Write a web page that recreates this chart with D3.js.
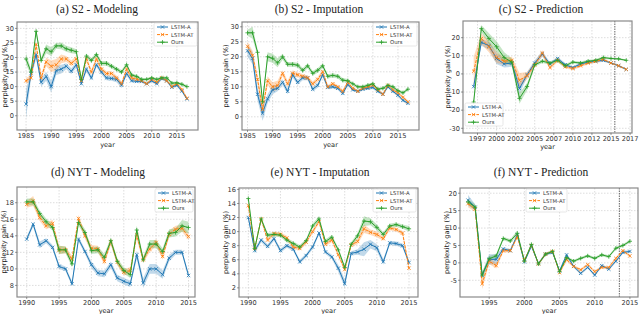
<!DOCTYPE html>
<html>
<head>
<meta charset="utf-8"/>
<style>
    body { margin: 0; background: #fff; }
    svg { display: block; }
    .tick-label { font-family: 'DejaVu Sans', sans-serif; font-size: 6.6px; fill: #333; }
    .axis-label { font-family: 'DejaVu Sans', sans-serif; font-size: 6.6px; fill: #222; }
    .title { font-family: 'Liberation Serif', 'Times New Roman', serif; font-size: 11.5px; fill: #222; }
    .legend-text { font-family: 'DejaVu Sans', sans-serif; font-size: 5.3px; fill: #333; }
</style>
<script src="https://cdnjs.cloudflare.com/ajax/libs/d3/7.8.5/d3.min.js"></script>
</head>
<body>
<svg id="viz" width="640" height="314"></svg>
<script>
// ---- data ----
const seriesNames = ['LSTM-A', 'LSTM-AT', 'Ours'];

// S2 - Modeling (1985..2017)
const s2ModYears = d3.range(1985, 2018);
const s2ModA   = [4, 14.5, 21, 11.5, 13.5, 10, 15.5, 16, 17, 15.3, 17.5, 11, 16, 13, 17.5, 15, 13, 12.8, 12.5, 10.5, 14.5, 12, 11.8, 11.8, 11, 12, 11, 12.8, 12, 9.8, 10.5, 8.5, 5.8];
const s2ModAT  = [12, 13, 24.5, 13, 18.5, 17, 17.5, 19.5, 19.5, 18, 19.5, 12, 19.5, 15, 19.5, 16, 14.5, 14.5, 13, 11, 16, 13, 12.5, 12, 11, 12.5, 11.5, 13, 12, 10, 11, 9, 6];
const s2ModOurs= [19.5, 15, 29, 19, 23, 22, 24, 24, 23, 22.5, 22, 12.5, 20.5, 19, 21, 18, 18, 17, 16, 15, 17.5, 14, 13.5, 12.5, 12.5, 13, 12.5, 13, 13, 11.2, 11.3, 10.8, 10];
const s2ModA_sd   = [5, 1.5, 1.5, 1.5, 1.5, 2, 1.5, 1.5, 1, 1, 1, 0.7, 1, 0.8, 0.8, 0.8, 0.8, 0.8, 1, 1, 0.8, 0.6, 0.5, 0.5, 0.5, 0.5, 0.5, 0.5, 0.5, 0.5, 0.5, 0.5, 0.5];
const s2ModAT_sd  = [1, 1, 1, 1, 1.5, 2, 2, 1.5, 1, 1, 1, 0.7, 1, 1, 0.8, 0.8, 0.8, 0.8, 0.8, 0.8, 0.8, 0.7, 0.6, 0.5, 0.5, 0.5, 0.5, 0.5, 0.5, 0.5, 0.5, 0.5, 0.5];
const s2ModOurs_sd= [2, 1, 1, 1, 1.5, 1.5, 1, 1.2, 1, 1, 0.8, 0.8, 0.8, 0.8, 0.8, 0.8, 0.8, 0.8, 0.7, 0.7, 0.7, 0.6, 0.6, 0.5, 0.5, 0.5, 0.5, 0.5, 0.5, 0.5, 0.5, 0.5, 0.5];

// S2 - Imputation (1985..2017)
const s2ImpYears = d3.range(1985, 2018);
const s2ImpA   = [22, 19.5, 7.5, 1.2, 6, 9, 9.5, 11.5, 8.5, 14, 11.5, 13, 13, 9.2, 10.5, 14, 9.8, 10, 9.5, 7.8, 10.8, 9, 8.5, 9.2, 9.5, 9.8, 8.5, 7.5, 10, 8.5, 7.2, 5.5, 4.5];
const s2ImpAT  = [23.5, 20.5, 12.5, 2.5, 12, 10, 10.5, 14.5, 11, 14.5, 14, 13.5, 13, 11, 12.5, 15, 10, 11, 10, 8.5, 11.5, 9.5, 8.5, 9.5, 10, 10.5, 9, 7.5, 10.5, 9, 8, 6.5, 5];
const s2ImpOurs= [28, 28, 21.5, 5, 20, 19.5, 18, 20, 17.5, 17.5, 17.2, 15.5, 17, 14.5, 15.5, 17, 13.5, 13.8, 13.5, 12.2, 12, 11, 10, 10, 10.5, 11, 9.2, 9.5, 10.5, 10, 8.7, 8, 9.2];
const s2ImpA_sd   = [2, 2, 2, 2.5, 1.5, 1.5, 1, 1, 1, 1, 0.8, 0.8, 0.8, 0.8, 0.8, 0.8, 0.6, 0.6, 0.6, 0.6, 0.6, 0.5, 0.5, 0.5, 0.5, 0.5, 0.5, 0.5, 0.5, 0.5, 0.5, 0.5, 0.5];
const s2ImpAT_sd  = [1.5, 1.5, 1.5, 2, 1.5, 1.5, 1.5, 1, 1, 1, 0.8, 0.8, 0.8, 0.8, 0.8, 0.8, 0.6, 0.6, 0.6, 0.6, 0.6, 0.5, 0.5, 0.5, 0.5, 0.5, 0.5, 0.5, 0.5, 0.5, 0.5, 0.5, 0.5];
const s2ImpOurs_sd= [1, 2, 1, 1, 1.5, 1.5, 1.5, 1, 0.8, 0.8, 0.8, 0.8, 0.8, 0.8, 0.8, 0.8, 0.7, 0.7, 0.7, 0.7, 0.6, 0.5, 0.5, 0.5, 0.5, 0.5, 0.5, 0.5, 0.5, 0.5, 0.5, 0.5, 0.5];

// S2 - Prediction (1997..2017)
const s2PredYears = d3.range(1997, 2018);
const s2PredA   = [-7, 17.5, 15.5, 8.5, 5.5, 6, -8, -0.5, 6, 11, 5.5, 8.5, 5, 3.5, 5.5, 6.5, 7, 7.5, 6, 4.5, 2.5];
const s2PredAT  = [1.5, 19.5, 15, 9, 7, 7.5, -3.5, -1, 5, 11.5, 3.5, 7.5, 4, 3, 4.5, 6, 7, 8, 6, 4.5, 2.5];
const s2PredOurs= [-15.5, 25, 19.5, 15, 9, 6.5, -13.5, -7, 5, 7, 6, 7.5, 4.5, 6.5, 6, 7, 7.5, 9, 8.5, 8.3, 7.5];
const s2PredA_sd   = [2, 2, 2, 3, 2, 2, 3, 1.5, 1.5, 1.5, 1, 1, 1, 0.8, 0.8, 0.8, 0.8, 0.8, 0.5, 0.5, 0.5];
const s2PredAT_sd  = [8, 3, 3, 3, 2, 2, 4, 2, 1.5, 1.5, 1, 1, 1, 0.8, 0.8, 0.8, 0.8, 0.8, 0.5, 0.5, 0.5];
const s2PredOurs_sd= [2, 2, 3, 3, 3, 2, 3, 2, 1, 1, 1, 1, 1, 0.8, 0.8, 0.8, 0.8, 0.8, 0.5, 0.5, 0.5];

// NYT - Modeling (1990..2015)
const nytModYears = d3.range(1990, 2016);
const nytModA   = [13.6, 15.4, 12.9, 13.4, 12.6, 10.3, 10, 8.2, 13.6, 12.1, 10.5, 9.5, 9.4, 10.5, 8.9, 8.5, 8.2, 11.7, 8.3, 10, 10, 9.3, 11.3, 12, 12, 9.2];
const nytModAT  = [17.8, 18.2, 16.2, 15.2, 15.5, 12.3, 12.3, 11.2, 16.1, 14, 12.5, 12.4, 10.9, 13.3, 10.8, 9.6, 9.8, 14.1, 11.1, 12.4, 13.2, 11.5, 14.2, 14.8, 14.9, 13.9];
const nytModOurs= [18.1, 18.1, 16.7, 15.7, 15, 12.3, 12.3, 10.6, 15.6, 14.4, 12.2, 12.3, 11.4, 13.4, 10.9, 9.8, 9.3, 14.7, 11.1, 13, 13, 12.1, 14.3, 14.4, 15.2, 15];
const nytModA_sd   = [0.3, 0.3, 0.4, 0.3, 0.3, 0.3, 0.3, 0.3, 0.3, 0.3, 0.4, 0.4, 0.4, 0.4, 0.4, 0.4, 0.4, 0.5, 0.6, 0.6, 0.6, 0.5, 0.4, 0.3, 0.3, 0.3];
const nytModAT_sd  = [0.4, 0.6, 0.4, 0.4, 0.4, 0.5, 0.4, 0.4, 0.4, 0.4, 0.4, 0.4, 0.4, 0.4, 0.4, 0.4, 0.4, 0.5, 0.4, 0.4, 0.4, 0.4, 0.4, 0.4, 0.4, 0.4];
const nytModOurs_sd= [0.4, 0.4, 0.4, 0.4, 0.4, 0.5, 0.4, 0.4, 0.4, 0.4, 0.4, 0.4, 0.4, 0.4, 0.4, 0.4, 0.4, 0.5, 0.4, 0.5, 0.5, 0.4, 0.5, 0.5, 0.7, 0.7];

// NYT - Imputation (1990..2015)
const nytImpYears = d3.range(1990, 2016);
const nytImpA   = [12, 7.3, 8.8, 7.9, 9, 7.3, 8, 7.5, 5.7, 6.6, 7.8, 9.8, 7.1, 6.4, 4.8, 2.6, 6.9, 7.1, 7.5, 8.2, 7.7, 5.7, 8.4, 8.3, 8, 5.6];
const nytImpAT  = [13.7, 7.6, 11.8, 8.8, 9.7, 9.6, 9.1, 7.8, 7.6, 8.5, 10, 11.4, 8.2, 8.8, 6.7, 4.6, 8.1, 8.6, 10.4, 9.9, 9.6, 9, 10.5, 10.3, 9.8, 4.8];
const nytImpOurs= [14.7, 7.6, 11.8, 9.5, 9.6, 9.5, 8.8, 8.3, 7.8, 8.7, 10.8, 11.8, 8.6, 9.2, 7.4, 4.9, 8.2, 9.4, 11.5, 11.4, 10.6, 9.6, 10.8, 11, 10.7, 10.4];
const nytImpA_sd   = [0.3, 0.4, 0.3, 0.3, 0.3, 0.3, 0.3, 0.3, 0.3, 0.3, 0.3, 0.3, 0.3, 0.3, 0.5, 0.6, 0.3, 0.4, 1.0, 0.6, 0.5, 0.4, 0.3, 0.3, 0.3, 0.3];
const nytImpAT_sd  = [0.3, 0.3, 0.3, 0.3, 0.3, 0.3, 0.3, 0.3, 0.3, 0.3, 0.3, 0.3, 0.3, 0.3, 0.3, 0.3, 0.3, 0.4, 0.6, 0.4, 0.4, 0.3, 0.3, 0.3, 0.3, 0.5];
const nytImpOurs_sd= [0.3, 0.3, 0.3, 0.3, 0.3, 0.3, 0.3, 0.3, 0.3, 0.3, 0.3, 0.4, 0.3, 0.3, 0.3, 0.3, 0.3, 0.4, 0.7, 0.5, 0.4, 0.3, 0.3, 0.3, 0.3, 0.4];

// NYT - Prediction (1992..2015)
const nytPredYears = d3.range(1992, 2016);
const nytPredA   = [18, 16, -3.5, 1, 1, 4, 3.5, 8, 0.3, 4.8, -0.2, 2.5, 3, -2.3, 2.3, -1, -3, -1.3, -3.5, -0.8, -1.8, 0.5, 3, 3.3];
const nytPredAT  = [17, 15.5, -6, 0.5, -0.8, 3.5, 3.5, 7.5, 0.8, 5, -0.3, 2.5, 3.3, -2.8, 1, -1, -2, -0.5, -2.5, -1.3, -1.3, 1.3, 3.5, 2];
const nytPredOurs= [17.5, 16, -3.5, 1.2, 2, 7, 6.3, 8.5, 0.5, 5.3, -0.3, 2.5, 3.3, -2.5, 1.5, 0.5, 1.3, 2, 1.3, 2.3, 1.8, 4.2, 5, 6.2];
const nytPredA_sd   = [1.5, 0.8, 0.8, 1.5, 1.5, 0.5, 0.5, 0.5, 0.4, 0.4, 0.4, 0.4, 0.4, 0.4, 0.5, 0.4, 0.4, 0.4, 0.4, 0.4, 0.4, 0.4, 0.4, 0.4];
const nytPredAT_sd  = [1, 0.8, 1.5, 0.8, 0.8, 0.5, 0.5, 0.5, 0.4, 0.4, 0.4, 0.4, 0.4, 0.4, 0.5, 0.4, 0.4, 0.4, 0.4, 0.4, 0.4, 0.4, 0.4, 0.4];
const nytPredOurs_sd= [0.8, 0.8, 0.8, 0.8, 0.6, 0.5, 0.5, 0.8, 0.4, 0.4, 0.4, 0.4, 0.4, 0.4, 0.4, 0.4, 0.4, 0.4, 0.4, 0.4, 0.4, 0.4, 0.4, 0.4];

// tick values
const s2Ticks = [0, 5, 10, 15, 20, 25, 30];
const s2YearTicks = [1985, 1990, 1995, 2000, 2005, 2010, 2015];
const s2PredTicks = [-30, -20, -10, 0, 10, 20];
const s2PredYearTicks = [1997.5, 2000, 2002.5, 2005, 2007.5, 2010, 2012.5, 2015, 2017.5];
const nytModTicks = [8, 10, 12, 14, 16, 18];
const nytImpTicks = [2, 4, 6, 8, 10, 12, 14, 16];
const nytPredTicks = [-5, 0, 5, 10, 15, 20];
const nytYearTicks = [1990, 1995, 2000, 2005, 2010, 2015];
const nytPredYearTicks = [1995, 2000, 2005, 2010, 2015];

const colors = ['#1f77b4', '#ff7f0e', '#2ca02c'];
const markers = ['x', 'x', '+'];

// ---- layout ----
// tk / yl: baseline offsets below the frame for tick labels and the "year" label
const panels = [
    {title: '(a) S2 - Modeling', tx: 97, ty: 13, l: 17, r: 198, t: 22, b: 130, tk: 8.3, yl: 16.8,
     xd: [1983.2, 2019.2], yd: [-4.9, 32.2], xt: s2YearTicks, yt: s2Ticks, ylx: 4,
     years: s2ModYears, vals: [s2ModA, s2ModAT, s2ModOurs], sds: [s2ModA_sd, s2ModAT_sd, s2ModOurs_sd],
     leg: [154, 22, 43]},
    {title: '(b) S2 - Imputation', tx: 319, ty: 13, l: 242, r: 419, t: 22, b: 130, tk: 8.3, yl: 16.8,
     xd: [1983.9, 2019.2], yd: [-4.4, 31.6], xt: s2YearTicks, yt: s2Ticks, ylx: 225,
     years: s2ImpYears, vals: [s2ImpA, s2ImpAT, s2ImpOurs], sds: [s2ImpA_sd, s2ImpAT_sd, s2ImpOurs_sd],
     leg: [373, 22, 44]},
    {title: '(c) S2 - Prediction', tx: 541, ty: 13, l: 463, r: 632, t: 21, b: 133, tk: 8.0, yl: 16.2,
     xd: [1995.6, 2017.75], yd: [-32.6, 29.2], xt: s2PredYearTicks, yt: s2PredTicks, ylx: 447,
     years: s2PredYears, vals: [s2PredA, s2PredAT, s2PredOurs], sds: [s2PredA_sd, s2PredAT_sd, s2PredOurs_sd],
     leg: [465, 102, 38], vline: 2015.5},
    {title: '(d) NYT - Modeling', tx: 98, ty: 176, l: 17, r: 195, t: 187, b: 297, tk: 7.6, yl: 15.6,
     xd: [1988.5, 2016.0], yd: [6.6, 19.9], xt: nytYearTicks, yt: nytModTicks, ylx: 3,
     years: nytModYears, vals: [nytModA, nytModAT, nytModOurs], sds: [nytModA_sd, nytModAT_sd, nytModOurs_sd],
     leg: [155, 188, 38]},
    {title: '(e) NYT - Imputation', tx: 320, ty: 176, l: 239, r: 418, t: 188, b: 297, tk: 7.6, yl: 15.6,
     xd: [1988.55, 2016.4], yd: [0.7, 16.2], xt: nytYearTicks, yt: nytImpTicks, ylx: 225,
     years: nytImpYears, vals: [nytImpA, nytImpAT, nytImpOurs], sds: [nytImpA_sd, nytImpAT_sd, nytImpOurs_sd],
     leg: [373, 188, 43]},
    {title: '(f) NYT - Prediction', tx: 541, ty: 176, l: 460, r: 638, t: 188, b: 297, tk: 7.6, yl: 15.6,
     xd: [1990.85, 2016.15], yd: [-9.8, 21.5], xt: nytPredYearTicks, yt: nytPredTicks, ylx: 446,
     years: nytPredYears, vals: [nytPredA, nytPredAT, nytPredOurs], sds: [nytPredA_sd, nytPredAT_sd, nytPredOurs_sd],
     leg: [526, 188, 41], vline: 2013.5}
];

const svg = d3.select('#viz');

function drawMarker(g, kind, x, y, color) {
    const s = kind === 'x' ? 1.7 : 2.1;
    const p = kind === 'x'
        ? `M${x - s},${y - s}L${x + s},${y + s}M${x - s},${y + s}L${x + s},${y - s}`
        : `M${x - s},${y}L${x + s},${y}M${x},${y - s}L${x},${y + s}`;
    g.append('path').attr('d', p).attr('stroke', color).attr('stroke-width', 0.8).attr('fill', 'none');
}

panels.forEach(p => {
    const x = d3.scaleLinear().domain(p.xd).range([p.l, p.r]);
    const y = d3.scaleLinear().domain(p.yd).range([p.b, p.t]);
    const g = svg.append('g');

    // grid
    g.selectAll('.gx').data(p.xt).enter().append('line')
        .attr('x1', d => x(d)).attr('x2', d => x(d)).attr('y1', p.t).attr('y2', p.b)
        .attr('stroke', '#cfcfcf').attr('stroke-width', 0.7).attr('stroke-dasharray', '1.5,1.5');
    g.selectAll('.gy').data(p.yt).enter().append('line')
        .attr('x1', p.l).attr('x2', p.r).attr('y1', d => y(d)).attr('y2', d => y(d))
        .attr('stroke', '#cfcfcf').attr('stroke-width', 0.7).attr('stroke-dasharray', '1.5,1.5');

    if (p.vline) {
        g.append('line').attr('x1', x(p.vline)).attr('x2', x(p.vline)).attr('y1', p.t).attr('y2', p.b)
            .attr('stroke', '#555').attr('stroke-width', 0.9).attr('stroke-dasharray', '1.5,1');
    }

    // bands
    p.vals.forEach((vals, si) => {
        const sd = p.sds[si];
        const area = d3.area()
            .x((d, i) => x(p.years[i]))
            .y0((d, i) => y(d - sd[i]))
            .y1((d, i) => y(d + sd[i]));
        g.append('path').datum(vals).attr('d', area).attr('fill', colors[si]).attr('opacity', 0.28);
    });

    // lines + markers
    p.vals.forEach((vals, si) => {
        const line = d3.line().x((d, i) => x(p.years[i])).y(d => y(d));
        g.append('path').datum(vals).attr('d', line).attr('fill', 'none')
            .attr('stroke', colors[si]).attr('stroke-width', 1)
            .attr('stroke-dasharray', si === 1 ? '3,1.2' : null);
        vals.forEach((v, i) => drawMarker(g, markers[si], x(p.years[i]), y(v), colors[si]));
    });

    // frame
    g.append('rect').attr('x', p.l).attr('y', p.t).attr('width', p.r - p.l).attr('height', p.b - p.t)
        .attr('fill', 'none').attr('stroke', '#8a8a8a').attr('stroke-width', 1.2);

    // ticks
    p.xt.forEach(v => {
        g.append('line').attr('x1', x(v)).attr('x2', x(v)).attr('y1', p.b).attr('y2', p.b + 2)
            .attr('stroke', '#555').attr('stroke-width', 0.6);
        g.append('text').attr('class', 'tick-label').attr('x', x(v)).attr('y', p.b + p.tk)
            .attr('text-anchor', 'middle').text(Math.floor(v));
    });
    p.yt.forEach(v => {
        g.append('line').attr('x1', p.l - 2).attr('x2', p.l).attr('y1', y(v)).attr('y2', y(v))
            .attr('stroke', '#555').attr('stroke-width', 0.6);
        g.append('text').attr('class', 'tick-label').attr('x', p.l - 3).attr('y', y(v) + 2.3)
            .attr('text-anchor', 'end').text(v);
    });

    // labels
    g.append('text').attr('class', 'axis-label').attr('x', (p.l + p.r) / 2).attr('y', p.b + p.yl)
        .attr('text-anchor', 'middle').text('year');
    g.append('text').attr('class', 'axis-label')
        .attr('transform', `translate(${p.ylx + 2.5},${(p.t + p.b) / 2}) rotate(-90)`)
        .attr('text-anchor', 'middle').text('perplexity gain (%)');
    g.append('text').attr('class', 'title').attr('x', p.tx).attr('y', p.ty)
        .attr('text-anchor', 'middle').text(p.title);

    // legend
    const [lx, ly, lw] = p.leg;
    const lg = g.append('g');
    lg.append('rect').attr('x', lx).attr('y', ly + 1).attr('width', lw).attr('height', 23).attr('rx', 1.5)
        .attr('fill', 'white').attr('fill-opacity', 0.85).attr('stroke', '#d6d6d6').attr('stroke-width', 0.6);
    seriesNames.forEach((name, si) => {
        const cy = ly + 5 + si * 7.6;
        lg.append('line').attr('x1', lx + 3).attr('x2', lx + 14).attr('y1', cy).attr('y2', cy)
            .attr('stroke', colors[si]).attr('stroke-width', 1)
            .attr('stroke-dasharray', si === 1 ? '3,1.2' : null);
        drawMarker(lg, markers[si], lx + 8.5, cy, colors[si]);
        lg.append('text').attr('class', 'legend-text').attr('x', lx + 17).attr('y', cy + 1.9).text(name);
    });
});
</script>
</body>
</html>
